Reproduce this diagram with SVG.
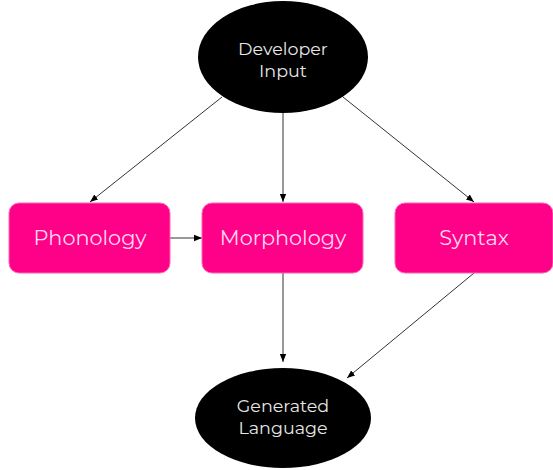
<svg xmlns="http://www.w3.org/2000/svg" width="553" height="470" viewBox="0 0 553 470">
  <style>
    .term { fill: #000000; }
    .box { fill: #ff0088; stroke: #ff66b3; stroke-width: 1; }
    .tl { font-family: Montserrat, "Open Sans", "Liberation Sans", sans-serif; fill: #e6e6e6; font-size: 17.5px; text-anchor: middle; }
    .bl { font-family: Montserrat, "Open Sans", "Liberation Sans", sans-serif; fill: #ffd9ec; font-size: 20.8px; text-anchor: middle; }
    .edge { stroke: #333333; stroke-width: 1; fill: none; marker-end: url(#arrow); }
  </style>
  <defs>
    <marker id="arrow" viewBox="0 0 10 10" refX="10" refY="5" markerWidth="8" markerHeight="8" markerUnits="userSpaceOnUse" orient="auto">
      <path d="M0,1 L10,5 L0,9 z" fill="#000000"/>
    </marker>
  </defs>

  <g id="connectors">
    <line class="edge" x1="222" y1="97" x2="90" y2="202"/>
    <line class="edge" x1="283" y1="113" x2="283" y2="202"/>
    <line class="edge" x1="343" y1="97" x2="474" y2="202"/>
    <line class="edge" x1="170" y1="238" x2="202" y2="238"/>
    <line class="edge" x1="283" y1="273" x2="283" y2="362"/>
    <line class="edge" x1="474" y1="273" x2="347" y2="378"/>
  </g>

  <g id="developer-input">
    <ellipse class="term" cx="283" cy="57" rx="85" ry="56"/>
    <text class="tl" x="283" y="55">Developer</text>
    <text class="tl" x="283" y="77">Input</text>
  </g>

  <g id="phonology">
    <rect class="box" x="9" y="203" width="161" height="70" rx="10"/>
    <text class="bl" x="90" y="245">Phonology</text>
  </g>

  <g id="morphology">
    <rect class="box" x="202" y="203" width="161" height="70" rx="10"/>
    <text class="bl" x="283" y="245">Morphology</text>
  </g>

  <g id="syntax">
    <rect class="box" x="395" y="203" width="158" height="70" rx="10"/>
    <text class="bl" x="474" y="245">Syntax</text>
  </g>

  <g id="generated-language">
    <ellipse class="term" cx="283" cy="418" rx="88" ry="50"/>
    <text class="tl" x="283" y="412">Generated</text>
    <text class="tl" x="283" y="434">Language</text>
  </g>
</svg>
